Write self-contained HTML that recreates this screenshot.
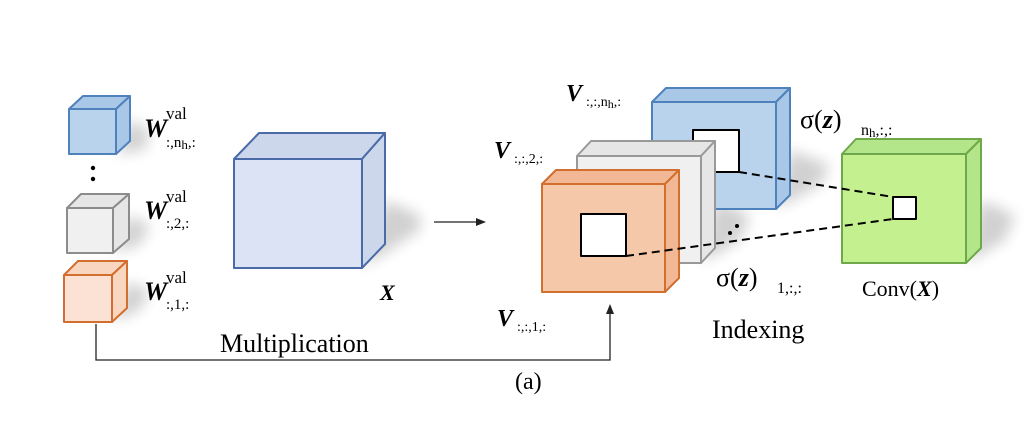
<!DOCTYPE html>
<html><head><meta charset="utf-8"><style>
html,body{margin:0;padding:0;background:#fff;}
svg{display:block}
text{font-family:"Liberation Serif",serif;fill:#000}
.b{font-weight:bold;font-style:italic}
</style></head><body>
<svg width="1026" height="438" viewBox="0 0 1026 438" xmlns="http://www.w3.org/2000/svg">
<defs>
<filter id="bl" x="-50%" y="-50%" width="200%" height="200%"><feGaussianBlur stdDeviation="7"/></filter>
</defs>
<!-- shadows -->
<g fill="#000" opacity="0.18" filter="url(#bl)">
<polygon points="385,200 420,215 420,230 362,268"/>
<polygon points="130,120 150,130 145,150 116,154"/>
<polygon points="129,215 150,225 140,245 113,253"/>
<polygon points="127,282 150,290 140,310 112,322"/>
<polygon points="790,150 830,165 820,185 776,209"/>
<polygon points="715,200 750,215 740,240 701,263"/>
<polygon points="981,200 1015,215 1005,240 966,263"/>
</g>
<!-- small cubes -->
<g stroke-width="2" stroke-linejoin="round">
<polygon points="69,109 83,96 130,96 116,109" fill="#a9c7e6" stroke="#4f81bd"/>
<polygon points="116,109 130,96 130,141 116,154" fill="#a9c7e6" stroke="#4f81bd"/>
<rect x="69" y="109" width="47" height="45" fill="#b9d3ec" stroke="#4f81bd"/>
<polygon points="67,208 81,194 129,194 113,208" fill="#e6e6e6" stroke="#8c8c8c"/>
<polygon points="113,208 129,194 129,239 113,253" fill="#e6e6e6" stroke="#8c8c8c"/>
<rect x="67" y="208" width="46" height="45" fill="#f0f0f0" stroke="#8c8c8c"/>
<polygon points="64,275 78,261 127,261 112,275" fill="#f9d6c0" stroke="#d26e2e"/>
<polygon points="112,275 127,261 127,308 112,322" fill="#f9d6c0" stroke="#d26e2e"/>
<rect x="64" y="275" width="48" height="47" fill="#fbe2d4" stroke="#d26e2e"/>
<!-- X cube -->
<polygon points="234,159 259,133 385,133 362,159" fill="#ccd7ec" stroke="#4a6aa8"/>
<polygon points="362,159 385,133 385,244 362,268" fill="#ccd7ec" stroke="#4a6aa8"/>
<rect x="234" y="159" width="128" height="109" fill="#dbe3f4" stroke="#4a6aa8"/>
</g>
<circle cx="93" cy="168" r="2.2" fill="#000"/><circle cx="93" cy="179" r="2.2" fill="#000"/>
<!-- W labels -->
<text x="144" y="137" font-size="26" class="b">W</text><text x="166" y="119" font-size="17">val</text><text x="166" y="147" font-size="15">:,n<tspan font-size="13" dy="2">h</tspan><tspan dy="-2">,:</tspan></text>
<text x="144" y="219" font-size="26" class="b">W</text><text x="166" y="202" font-size="17">val</text><text x="166" y="228" font-size="15">:,2,:</text>
<text x="144" y="300" font-size="26" class="b">W</text><text x="166" y="283" font-size="17">val</text><text x="166" y="309" font-size="15">:,1,:</text>
<text x="380" y="300" font-size="22" class="b">X</text>
<text x="220" y="352" font-size="26">Multiplication</text>
<!-- connectors -->
<g stroke="#222" stroke-width="1.3" fill="none">
<polyline points="96,324 96,360 610,360 610,308"/>
<line x1="434" y1="222" x2="480" y2="222"/>
</g>
<polygon points="610,304 606,314 614,314" fill="#222"/>
<polygon points="486,222 476,218 476,226" fill="#222"/>
<text x="515" y="389" font-size="24">(a)</text>
<!-- right stack -->
<g stroke-width="2" stroke-linejoin="round">
<polygon points="652,102 666,88 790,88 776,102" fill="#a9c7e6" stroke="#4f81bd"/>
<polygon points="776,102 790,88 790,195 776,209" fill="#a9c7e6" stroke="#4f81bd"/>
<rect x="652" y="102" width="124" height="107" fill="#b9d3ec" stroke="#4f81bd"/>
<rect x="693" y="130" width="46" height="42" fill="#fff" stroke="#000"/>
<polygon points="577,156 591,141 715,141 701,156" fill="#e6e6e6" stroke="#999"/>
<polygon points="701,156 715,141 715,248 701,263" fill="#e6e6e6" stroke="#999"/>
<rect x="577" y="156" width="124" height="107" fill="#f0f0f0" stroke="#999"/>
<polygon points="542,184 556,170 679,170 665,184" fill="#f2b895" stroke="#d26e2e"/>
<polygon points="665,184 679,170 679,278 665,292" fill="#f2b895" stroke="#d26e2e"/>
<rect x="542" y="184" width="123" height="108" fill="#f5c8aa" stroke="#d26e2e"/>
<rect x="581" y="214" width="45" height="42" fill="#fff" stroke="#000"/>
<polygon points="842,154 856,139 981,139 966,154" fill="#b3e68a" stroke="#6fa84a"/>
<polygon points="966,154 981,139 981,248 966,263" fill="#b3e68a" stroke="#6fa84a"/>
<rect x="842" y="154" width="124" height="109" fill="#c4f090" stroke="#6fa84a"/>
<rect x="893" y="197" width="23" height="22" fill="#fff" stroke="#000"/>
</g>
<g stroke="#000" stroke-width="2" stroke-dasharray="8,5">
<line x1="739" y1="172" x2="893" y2="197"/>
<line x1="626" y1="256" x2="893" y2="219"/>
</g>
<circle cx="730" cy="233" r="2" fill="#000"/><circle cx="737" cy="226" r="2" fill="#000"/>
<!-- right labels -->
<text x="566" y="101" font-size="24" class="b">V</text><text x="586" y="106" font-size="14">:,:,n<tspan font-size="12" dy="2">h</tspan><tspan dy="-2">,:</tspan></text>
<text x="494" y="158" font-size="24" class="b">V</text><text x="514" y="163" font-size="14">:,:,2,:</text>
<text x="497" y="326" font-size="24" class="b">V</text><text x="517" y="331" font-size="14">:,:,1,:</text>
<text x="800" y="128" font-size="26">σ(<tspan class="b">z</tspan>)</text><text x="861" y="135" font-size="16">n<tspan font-size="13" dy="2">h</tspan><tspan dy="-2">,:,:</tspan></text>
<text x="716" y="286" font-size="26">σ(<tspan class="b">z</tspan>)</text><text x="777" y="293" font-size="16">1,:,:</text>
<text x="862" y="296" font-size="22">Conv(<tspan class="b">X</tspan>)</text>
<text x="712" y="338" font-size="26">Indexing</text>
</svg>
</body></html>
